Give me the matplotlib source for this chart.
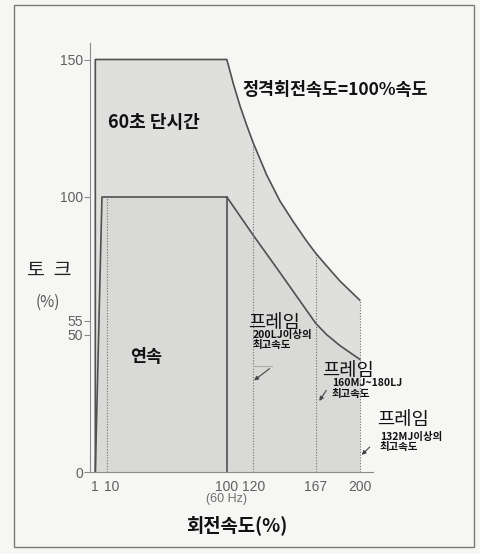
import matplotlib
matplotlib.use("Agg")
import matplotlib.pyplot as plt
import matplotlib.transforms as mtransforms
from matplotlib.patches import Rectangle

plt.rcParams['font.family'] = ['Noto Sans CJK KR', 'DejaVu Sans']

# outer curve: 60 s short-time torque (%)
short_x = [1, 1, 100, 105, 110, 115, 120, 130, 140, 150, 160, 167, 175, 185, 200]
short_y = [0, 150, 150, 141, 133, 126, 119.5, 108, 98.5, 91, 84, 79.5, 75, 69.5, 62.5]

# inner curve: continuous torque (%)
cont_x = [1, 6, 100, 120, 140, 167, 175, 185, 200]
cont_y = [0, 100, 100, 86, 72.5, 54, 50, 46, 41]

# dotted guide lines (speed, top torque)
guide_x = [10, 120, 167, 200]
guide_top = [100, 119.5, 79.5, 62.5]

xticks = [1, 10, 100, 120, 167, 200]
yticks = [0, 50, 55, 100, 150]

frame_labels = ["200LJ이상의\n최고속도", "160MJ~180LJ\n최고속도", "132MJ이상의\n최고속도"]

W, H = 480, 554
fig = plt.figure(figsize=(W / 100, H / 100), dpi=100)
fig.patch.set_facecolor('#f6f6f4')

# outer frame of the figure
fig.patches.append(Rectangle((14 / W, 1 - 547 / H), 460 / W, 542 / H,
                             transform=fig.transFigure, fill=False,
                             edgecolor='#7a7a7a', lw=1.0))

ax = fig.add_axes([90 / W, 1 - 472 / H, 283 / W, 429 / H])
ax.set_facecolor('none')
ax.set_xlim(-3, 210)
ax.set_ylim(0, 156)

line_c = '#505050'
ax.fill_between(short_x, short_y, color='#dfdfdd', lw=0)
ax.fill_between(cont_x, cont_y, color='#d9d9d7', lw=0)
ax.plot(short_x, short_y, color=line_c, lw=1.2)
ax.plot(cont_x, cont_y, color=line_c, lw=1.2)
ax.plot([100, 100], [0, 100], color=line_c, lw=1.2)
for gx, gt in zip(guide_x, guide_top):
    ax.plot([gx, gx], [0, gt], color='#707070', lw=0.8, ls=(0, (1, 1.5)))

for s in ['top', 'right']:
    ax.spines[s].set_visible(False)
ax.spines['left'].set_color('#8a8a8a')
ax.spines['bottom'].set_color('#8a8a8a')
ax.spines['left'].set_position(('data', -3))

ax.set_xticks(xticks)
ax.set_xticklabels([str(v) for v in xticks])
ax.set_yticks(yticks)
ax.set_yticklabels([str(v) for v in yticks])
ax.tick_params(axis='x', length=0, pad=6, labelsize=10, labelcolor='#606060')
ax.tick_params(axis='y', length=4, direction='out', pad=1, labelsize=10,
               labelcolor='#606060', color='#8a8a8a')
for lab in ax.get_xticklabels() + ax.get_yticklabels():
    lab.set_family(['Liberation Sans', 'DejaVu Sans'])
# keep "1" and "10" apart
xl = ax.get_xticklabels()
xl[0].set_transform(xl[0].get_transform() +
                    mtransforms.ScaledTranslation(-1 / 100, 0, fig.dpi_scale_trans))
xl[1].set_transform(xl[1].get_transform() +
                    mtransforms.ScaledTranslation(4 / 100, 0, fig.dpi_scale_trans))

# texts inside the chart
ax.text(112, 139, "정격회전속도=100%속도", fontsize=12.5, fontweight='bold',
        va='center', ha='left', color='#111')
ax.text(10.5, 127, "60초 단시간", fontsize=13, fontweight='bold',
        va='center', ha='left', color='#111')
ax.text(27, 42, "연속", fontsize=12.5, fontweight='bold',
        va='center', ha='left', color='#111')

frame_pos = [(115.8, 54.5, 119.5, 51.5), (171.4, 37, 179, 34), (212.8, 19, 215, 14.5)]
for (fx, fy, sx, sy), lab in zip(frame_pos, frame_labels):
    ax.text(fx, fy, "프레임", fontsize=13.5, va='center', ha='left',
            color='#111', clip_on=False)
    ax.text(sx, sy, lab, fontsize=7.5, fontweight='bold', va='top', ha='left',
            color='#111', linespacing=1.0, clip_on=False)

arrows = [((133.8, 38.2), (118.8, 32.7)), ((176, 30.5), (168.4, 25)),
          ((209, 9.8), (200, 5.5))]
for start, end in arrows:
    ax.annotate("", xy=end, xytext=start, annotation_clip=False,
                arrowprops=dict(arrowstyle='-|>', color='#444', lw=0.8,
                                mutation_scale=6))
ax.plot([120, 134], [38.5, 38.5], color='#aaaaaa', lw=0.8)

# axis titles outside
fig.text(49 / W, 1 - 270 / H, "토  크", fontsize=14, ha='center', va='center', color='#222')
fig.text(48 / W, 1 - 302 / H, "(%)", fontsize=11, ha='center', va='center', color='#555')
fig.text(226 / W, 1 - 499 / H, "(60 Hz)", fontsize=9, ha='center', va='center',
         color='#707070', family=['Liberation Sans', 'DejaVu Sans'])
fig.text(237 / W, 1 - 525 / H, "회전속도(%)", fontsize=13.5, fontweight='bold',
         ha='center', va='center', color='#111')

fig.savefig("out.png", dpi=100, facecolor=fig.get_facecolor())
